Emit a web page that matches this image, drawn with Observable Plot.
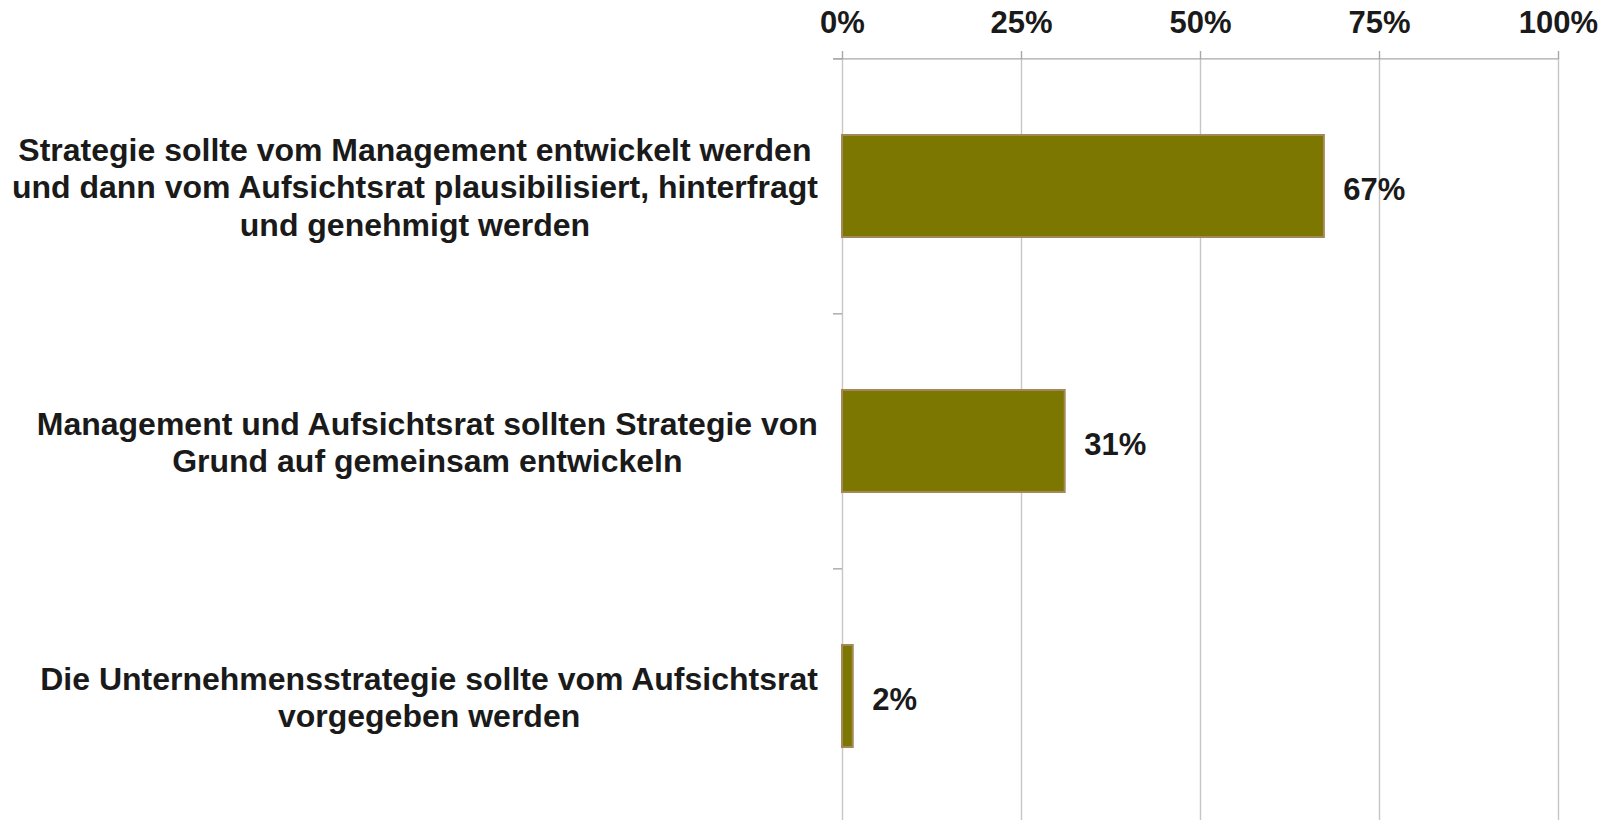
<!DOCTYPE html>
<html>
<head>
<meta charset="utf-8">
<script src="https://cdn.jsdelivr.net/npm/d3@7"></script>
<script src="https://cdn.jsdelivr.net/npm/@observablehq/plot@0.6"></script>
<style>
  html, body { margin: 0; padding: 0; background: #fff; overflow: hidden; }
</style>
</head>
<body>
<div id="chart"></div>
<script>
// ---- data ----
const categories = [
  "Strategie sollte vom Management entwickelt werden und dann vom Aufsichtsrat plausibilisiert, hinterfragt und genehmigt werden",
  "Management und Aufsichtsrat sollten Strategie von Grund auf gemeinsam entwickeln",
  "Die Unternehmensstrategie sollte vom Aufsichtsrat vorgegeben werden"
];
const labelLines = [
  ["Strategie sollte vom Management entwickelt werden", "und dann vom Aufsichtsrat plausibilisiert, hinterfragt", "und genehmigt werden"],
  ["Management und Aufsichtsrat sollten Strategie von", "Grund auf gemeinsam entwickeln"],
  ["Die Unternehmensstrategie sollte vom Aufsichtsrat", "vorgegeben werden"]
];
const values = [67.3, 31.1, 1.5];
const xTicks = [0, 25, 50, 75, 100];

const rows = categories.map((c, i) => ({category: c, value: values[i]}));

// ---- styles ----
const W = 1613, H = 820;
const fontFamily = "'Liberation Sans', Arial, Helvetica, sans-serif";
const fontSize = 31;
const labelFontSize = 32;
const textColor = "#1a1a1a";
const barFill = "#7b7700";
const barStroke = "#a5885a";
const gridColor = "#c6c6c6";
const axisColor = "#a8a8a8";

const yRange = [58, 824];
const padInner = 0.6, padOuter = 0.3;
const step = (yRange[1] - yRange[0]) / (categories.length - padInner + 2 * padOuter);

// measure text widths to right-align each centered label block
const ctx = document.createElement("canvas").getContext("2d");
ctx.font = `bold ${labelFontSize}px ${fontFamily}`;
const labelGap = 24;

const labelMarks = categories.map((c, i) => {
  const maxW = d3.max(labelLines[i], s => ctx.measureText(s).width);
  return Plot.text([c], {
    x: () => 0,
    y: d => d,
    text: () => labelLines[i].join("\n"),
    dx: -(labelGap + maxW / 2),
    textAnchor: "middle",
    lineAnchor: "middle",
    lineHeight: 1.17,
    fontSize: labelFontSize,
    fontWeight: "bold",
    fill: textColor
  });
});

const chart = Plot.plot({
  width: W,
  height: H,
  marginLeft: 842,
  marginRight: 55,
  marginTop: 58,
  marginBottom: 0,
  style: {fontFamily: fontFamily, background: "#fff", overflow: "visible"},
  x: {domain: [0, 100], label: null},
  y: {domain: categories, range: yRange, paddingInner: padInner, paddingOuter: padOuter, axis: null},
  marks: [
    Plot.ruleX(xTicks, {stroke: gridColor, strokeWidth: 1.4}),
    Plot.axisX(xTicks, {
      anchor: "top",
      label: null,
      tickSize: 8,
      tickPadding: 18,
      tickFormat: d => d + "%",
      stroke: axisColor,
      strokeWidth: 1.4,
      fontSize: fontSize,
      fontWeight: "bold",
      fill: textColor
    }),
    // top axis line
    Plot.ruleY([categories[0]], {x1: 0, x2: 100, dy: -step / 2, insetLeft: -9, stroke: axisColor, strokeWidth: 1.4}),
    // category boundary ticks
    Plot.ruleY(categories, {x1: 0, x2: 0, dy: -step / 2, insetLeft: -9, stroke: axisColor, strokeWidth: 1.4}),
    Plot.barX(rows, {x: "value", y: "category", fill: barFill, stroke: barStroke, strokeWidth: 2}),
    Plot.text(rows, {
      x: "value",
      y: "category",
      text: d => Math.round(d.value) + "%",
      dx: 19,
      dy: 4,
      textAnchor: "start",
      fontSize: fontSize,
      fontWeight: "bold",
      fill: textColor
    }),
    ...labelMarks
  ]
});
document.getElementById("chart").appendChild(chart);
</script>
</body>
</html>
